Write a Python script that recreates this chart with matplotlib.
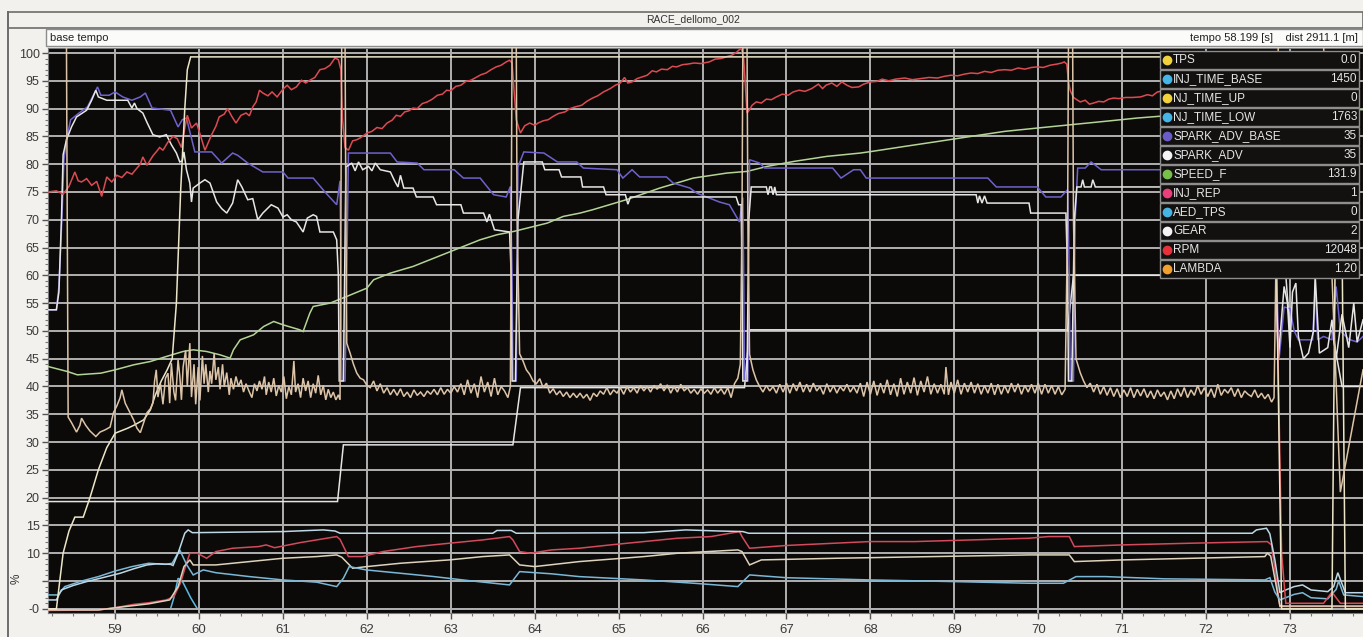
import matplotlib.pyplot as plt
from matplotlib.patches import Rectangle
from matplotlib.lines import Line2D

W, H = 1363, 637

# ---- channels: (time [s], value [%]) ----
rpm = [(58.20, 75.0), (58.30, 75.2), (58.38, 74.6), (58.45, 76.0), (58.52, 78.6), (58.56, 77.0),
       (58.60, 76.8), (58.66, 77.4), (58.72, 76.2), (58.78, 76.9), (58.84, 74.2), (58.90, 77.7),
       (58.96, 76.8), (59.02, 78.0), (59.08, 77.6), (59.14, 78.6), (59.20, 78.2), (59.26, 79.3),
       (59.30, 80.0), (59.33, 81.3), (59.38, 79.8), (59.45, 81.5), (59.50, 82.4), (59.53, 83.0),
       (59.57, 82.5), (59.63, 84.0), (59.69, 85.0), (59.74, 84.6), (59.79, 83.0), (59.83, 86.5),
       (59.86, 88.8), (59.91, 86.5), (59.97, 87.4), (60.02, 85.0), (60.07, 82.5), (60.15, 85.3),
       (60.20, 86.8), (60.24, 88.5), (60.30, 89.0), (60.34, 90.0), (60.39, 88.6), (60.44, 87.4),
       (60.50, 88.8), (60.56, 89.2), (60.60, 88.7), (60.64, 90.3), (60.68, 91.2), (60.72, 93.3),
       (60.76, 92.8), (60.82, 92.3), (60.87, 93.0), (60.93, 92.1), (61.00, 93.5), (61.05, 94.2),
       (61.10, 93.4), (61.16, 93.9), (61.22, 95.1), (61.27, 94.6), (61.32, 95.1), (61.38, 95.6),
       (61.44, 97.0), (61.50, 97.2), (61.56, 97.8), (61.62, 99.1), (61.66, 98.8), (61.69, 97.0),
       (61.71, 88.0), (61.74, 83.0), (61.78, 82.5), (61.83, 84.2), (61.88, 84.4), (61.93, 84.8),
       (62.00, 85.6), (62.06, 85.9), (62.12, 86.6), (62.18, 86.4), (62.24, 87.4), (62.30, 87.9),
       (62.35, 88.8), (62.40, 88.6), (62.45, 89.4), (62.50, 89.6), (62.55, 90.1), (62.60, 90.0),
       (62.66, 90.9), (62.72, 91.2), (62.78, 91.7), (62.84, 92.4), (62.90, 92.6), (62.95, 93.3),
       (63.00, 93.2), (63.06, 94.0), (63.12, 94.2), (63.18, 94.9), (63.24, 95.1), (63.30, 95.6),
       (63.36, 96.1), (63.42, 96.4), (63.48, 97.0), (63.54, 97.5), (63.60, 97.8), (63.66, 98.4),
       (63.70, 98.7), (63.73, 98.2), (63.75, 94.0), (63.78, 88.0), (63.83, 85.6), (63.88, 86.9),
       (63.94, 87.4), (64.00, 87.0), (64.04, 87.4), (64.10, 87.8), (64.16, 88.0), (64.22, 88.6),
       (64.28, 89.1), (64.36, 89.4), (64.42, 90.0), (64.48, 90.3), (64.56, 90.6), (64.62, 91.3),
       (64.69, 91.9), (64.75, 92.3), (64.82, 93.0), (64.90, 93.6), (64.96, 94.2), (65.02, 94.6),
       (65.07, 95.6), (65.11, 94.6), (65.16, 94.8), (65.22, 95.4), (65.28, 95.7), (65.34, 96.0),
       (65.40, 96.8), (65.45, 96.6), (65.51, 97.1), (65.58, 97.0), (65.64, 97.6), (65.69, 97.5),
       (65.76, 97.9), (65.82, 98.0), (65.90, 98.2), (65.98, 98.1), (66.08, 98.4), (66.15, 98.9),
       (66.22, 99.0), (66.30, 99.4), (66.35, 99.6), (66.41, 100.2), (66.46, 100.9), (66.49, 99.0),
       (66.51, 94.0), (66.53, 89.2), (66.56, 89.8), (66.59, 90.6), (66.64, 91.2), (66.70, 91.0),
       (66.76, 91.7), (66.82, 91.6), (66.88, 92.1), (66.95, 92.6), (67.02, 92.4), (67.08, 93.0),
       (67.15, 93.3), (67.22, 93.1), (67.30, 93.6), (67.38, 94.4), (67.43, 93.6), (67.47, 94.2),
       (67.54, 94.6), (67.60, 94.0), (67.66, 94.8), (67.72, 94.2), (67.78, 93.8), (67.86, 93.9),
       (67.92, 94.4), (68.00, 94.8), (68.08, 94.9), (68.14, 95.3), (68.22, 95.0), (68.30, 95.3),
       (68.41, 95.5), (68.50, 95.2), (68.60, 95.4), (68.70, 95.6), (68.80, 95.5), (68.88, 95.8),
       (68.96, 96.0), (69.04, 95.9), (69.12, 96.2), (69.20, 96.4), (69.28, 96.3), (69.36, 96.7),
       (69.44, 96.5), (69.52, 96.9), (69.60, 97.0), (69.68, 96.9), (69.76, 97.3), (69.84, 97.1),
       (69.92, 97.4), (69.99, 97.5), (70.06, 97.4), (70.14, 97.8), (70.22, 98.0), (70.28, 98.2),
       (70.31, 98.4), (70.34, 98.0), (70.36, 95.0), (70.38, 93.3), (70.42, 92.0), (70.50, 91.2),
       (70.56, 91.5), (70.61, 90.8), (70.66, 91.0), (70.72, 91.3), (70.78, 91.2), (70.84, 91.7),
       (70.90, 91.9), (70.96, 91.8), (71.04, 92.0), (71.12, 92.0), (71.22, 92.1), (71.30, 92.5),
       (71.36, 92.3), (71.42, 93.0), (71.50, 93.2), (71.70, 93.4), (72.00, 93.5), (72.40, 93.6),
       (72.78, 93.4), (72.84, 60.0), (72.90, 10.0), (72.95, 1.0), (73.40, 1.0), (73.50, 3.0),
       (73.60, 1.0), (73.87, 1.0)]

spark_adv_base = [(58.20, 53.8), (58.30, 53.8), (58.33, 58.0), (58.35, 64.6), (58.37, 72.0),
                  (58.39, 80.8), (58.42, 84.4), (58.47, 88.0), (58.57, 89.2), (58.67, 90.3),
                  (58.73, 92.1), (58.79, 93.9), (58.83, 92.4), (58.93, 92.4), (59.00, 93.0),
                  (59.09, 92.1), (59.20, 91.5), (59.30, 92.1), (59.36, 92.8), (59.44, 90.1),
                  (59.66, 89.7), (59.75, 86.7), (59.80, 88.0), (59.85, 88.3), (59.95, 82.2),
                  (60.15, 82.2), (60.27, 80.2), (60.40, 82.0), (60.46, 81.6), (60.58, 80.2),
                  (60.76, 78.6), (61.00, 78.6), (61.06, 77.5), (61.36, 77.5), (61.50, 75.0),
                  (61.64, 72.7), (61.68, 77.0), (61.69, 60.0), (61.70, 41.0), (61.74, 41.0),
                  (61.76, 60.0), (61.78, 82.0), (62.28, 82.0), (62.36, 80.4), (62.60, 80.2),
                  (62.68, 79.0), (63.04, 79.0), (63.15, 77.5), (63.35, 77.5), (63.51, 74.5),
                  (63.66, 74.1), (63.71, 76.0), (63.73, 60.0), (63.74, 41.0), (63.78, 41.0),
                  (63.80, 79.5), (63.87, 82.2), (64.11, 82.0), (64.27, 80.4), (64.50, 80.4),
                  (64.58, 79.3), (64.98, 79.0), (65.05, 77.5), (65.16, 79.0), (65.25, 77.7),
                  (65.57, 77.7), (65.65, 76.6), (65.85, 75.7), (65.93, 74.8), (66.20, 73.2),
                  (66.32, 72.7), (66.44, 69.6), (66.48, 74.0), (66.49, 60.0), (66.50, 41.0),
                  (66.54, 41.0), (66.56, 80.8), (66.68, 80.2), (66.74, 79.3), (67.55, 79.3),
                  (67.65, 77.5), (67.80, 79.0), (67.88, 79.0), (67.95, 77.5), (69.40, 77.5),
                  (69.50, 75.9), (69.99, 75.9), (70.09, 74.1), (70.27, 74.1), (70.35, 75.4),
                  (70.37, 60.0), (70.38, 41.0), (70.42, 41.0), (70.44, 70.0), (70.47, 79.3),
                  (70.56, 79.3), (70.63, 80.4), (70.75, 79.0), (72.80, 79.0), (72.84, 60.0),
                  (72.87, 45.0), (72.93, 54.3), (73.00, 54.0), (73.05, 50.0), (73.10, 48.4),
                  (73.27, 48.4), (73.30, 58.0), (73.33, 48.4), (73.40, 49.0), (73.50, 48.4),
                  (73.55, 58.0), (73.60, 50.0), (73.70, 48.5), (73.80, 48.0), (73.87, 49.0)]

spark_adv = [(58.20, 53.8), (58.30, 53.8), (58.33, 57.0), (58.36, 70.0), (58.38, 81.7),
             (58.42, 84.4), (58.48, 86.7), (58.54, 88.5), (58.66, 89.7), (58.72, 91.5),
             (58.77, 93.3), (58.80, 92.1), (58.90, 91.5), (59.15, 91.5), (59.20, 90.1),
             (59.23, 91.0), (59.26, 90.0), (59.33, 89.2), (59.38, 87.5), (59.45, 85.3),
             (59.53, 84.9), (59.61, 85.3), (59.67, 83.5), (59.73, 82.0), (59.77, 80.4),
             (59.80, 80.6), (59.82, 82.2), (59.85, 79.0), (59.89, 76.6), (59.91, 73.2),
             (59.93, 75.7), (60.01, 76.6), (60.07, 77.2), (60.13, 76.6), (60.21, 73.2),
             (60.27, 72.0), (60.33, 71.2), (60.40, 73.0), (60.46, 77.2), (60.51, 75.9),
             (60.58, 73.6), (60.64, 73.8), (60.70, 70.0), (60.76, 71.2), (60.86, 72.7),
             (60.94, 72.1), (61.00, 70.5), (61.05, 70.9), (61.10, 70.0), (61.16, 69.6),
             (61.24, 67.8), (61.29, 70.3), (61.36, 70.9), (61.40, 70.6), (61.44, 67.8),
             (61.60, 67.8), (61.64, 66.4), (61.66, 60.0), (61.67, 41.0), (61.72, 41.0),
             (61.75, 79.5), (61.82, 80.2), (61.86, 78.8), (61.90, 80.4), (61.95, 79.0),
             (62.02, 79.6), (62.06, 78.8), (62.10, 80.2), (62.16, 79.0), (62.28, 78.6),
             (62.33, 77.0), (62.37, 75.9), (62.40, 78.0), (62.44, 75.7), (62.55, 75.7),
             (62.59, 74.1), (62.79, 74.1), (62.83, 72.7), (63.12, 72.7), (63.15, 71.2),
             (63.39, 71.2), (63.43, 69.6), (63.46, 71.0), (63.52, 68.2), (63.70, 67.8),
             (63.72, 60.0), (63.73, 41.0), (63.77, 41.0), (63.80, 70.0), (63.87, 80.4),
             (64.09, 80.4), (64.12, 79.0), (64.29, 79.0), (64.32, 77.7), (64.55, 77.7),
             (64.57, 75.9), (64.82, 75.9), (64.85, 74.5), (65.08, 74.5), (65.11, 72.8),
             (65.14, 74.1), (66.40, 74.1), (66.43, 72.7), (66.46, 72.7), (66.47, 60.0),
             (66.48, 41.0), (66.53, 41.0), (66.55, 70.0), (66.58, 75.9), (66.76, 75.9),
             (66.78, 74.5), (66.80, 75.9), (66.82, 75.9), (66.84, 74.5), (66.86, 75.9),
             (66.88, 74.5), (69.26, 74.5), (69.28, 73.0), (69.30, 74.3), (69.33, 73.0),
             (69.36, 74.3), (69.39, 73.0), (69.89, 73.0), (69.91, 71.2), (70.33, 71.2),
             (70.35, 60.0), (70.36, 41.0), (70.40, 41.0), (70.43, 70.0), (70.46, 75.9),
             (70.51, 75.9), (70.53, 77.2), (70.55, 75.9), (70.63, 75.9), (70.65, 77.2),
             (70.68, 75.9), (72.80, 75.9), (72.83, 60.0), (72.86, 45.0), (72.93, 58.0),
             (72.97, 55.0), (73.00, 47.0), (73.03, 57.0), (73.07, 58.6), (73.10, 49.0),
             (73.16, 45.0), (73.22, 46.0), (73.28, 50.0), (73.30, 60.0), (73.35, 46.0),
             (73.45, 47.0), (73.50, 52.0), (73.55, 45.0), (73.62, 53.0), (73.70, 47.0),
             (73.76, 55.0), (73.80, 48.0), (73.87, 52.0)]

tps = [(58.20, 0.0), (58.30, 0.0), (58.38, 10.0), (58.45, 14.0), (58.52, 16.5), (58.62, 16.5),
       (58.70, 20.0), (58.80, 25.0), (58.90, 29.0), (59.00, 31.6), (59.15, 32.5), (59.22, 33.0),
       (59.34, 34.0), (59.42, 35.8), (59.48, 38.5), (59.55, 41.0), (59.62, 43.0), (59.68, 45.0),
       (59.73, 55.0), (59.78, 75.0), (59.83, 90.0), (59.86, 97.0), (59.90, 99.3), (72.80, 99.3),
       (72.86, 40.0), (72.90, 0.0), (73.50, 0.0), (73.56, 99.3), (73.60, 99.3), (73.66, 0.0),
       (73.87, 0.0)]

speed_f = [(58.20, 43.6), (58.43, 42.7), (58.55, 42.1), (58.83, 42.4), (59.00, 43.0), (59.22, 43.9),
           (59.42, 44.5), (59.61, 45.4), (59.81, 46.3), (59.93, 46.6), (60.09, 46.3), (60.25, 45.7),
           (60.37, 45.1), (60.41, 46.6), (60.49, 48.4), (60.65, 49.3), (60.77, 50.8), (60.89, 51.7),
           (61.00, 51.1), (61.20, 50.2), (61.24, 49.9), (61.32, 53.2), (61.36, 54.4), (61.56, 55.0),
           (61.76, 56.2), (62.00, 57.7), (62.08, 59.2), (62.28, 60.4), (62.55, 61.6), (62.75, 62.8),
           (62.95, 64.0), (63.15, 65.2), (63.35, 66.4), (63.55, 67.3), (63.75, 67.9), (63.99, 68.8),
           (64.15, 69.4), (64.34, 70.6), (64.54, 71.2), (64.69, 71.8), (65.09, 73.6), (65.49, 75.7),
           (65.89, 77.5), (66.29, 78.4), (66.53, 78.7), (66.77, 79.6), (67.09, 80.5), (67.48, 81.4),
           (67.88, 82.0), (68.02, 82.3), (68.41, 83.2), (68.81, 84.1), (69.20, 85.0), (69.60, 85.9),
           (69.99, 86.5), (70.39, 87.1), (70.79, 87.7), (71.18, 88.3), (71.43, 88.6), (72.00, 89.2),
           (72.80, 89.8), (73.87, 89.8)]

gear = [(58.20, 19.3), (61.65, 19.3), (61.72, 29.5), (63.74, 29.5), (63.83, 39.8), (66.50, 39.8),
        (66.56, 50.2), (70.35, 50.2), (70.42, 60.0), (72.95, 60.0), (73.00, 50.0), (73.50, 50.0),
        (73.62, 40.0), (73.87, 40.0)]

lambda_ = [(58.20, 101.5), (58.42, 101.5), (58.43, 70.0), (58.44, 34.5), (58.48, 33.5), (58.54, 31.8),
           (58.58, 33.0), (58.60, 34.3), (58.65, 33.0), (58.70, 32.0), (58.77, 31.0), (58.82, 31.8),
           (58.88, 32.2), (58.94, 32.7), (58.98, 35.3), (59.02, 36.5), (59.06, 38.0), (59.08, 39.4),
           (59.12, 37.0), (59.17, 35.5), (59.22, 34.0), (59.26, 32.5), (59.30, 31.7), (59.34, 33.5),
           (59.38, 35.3), (59.42, 36.0), (59.45, 37.0), (59.47, 41.0), (59.49, 43.0), (59.51, 38.1),
           (59.54, 40.5), (59.57, 36.8), (59.60, 41.5), (59.63, 42.4), (59.65, 37.0), (59.67, 44.2),
           (59.70, 39.0), (59.72, 37.5), (59.75, 44.8), (59.77, 42.0), (59.79, 37.6), (59.81, 43.5),
           (59.84, 46.5), (59.86, 40.0), (59.89, 47.8), (59.91, 38.1), (59.94, 44.0), (59.96, 36.8),
           (59.99, 43.5), (60.01, 37.5), (60.04, 45.5), (60.06, 40.5), (60.08, 44.0), (60.11, 39.0),
           (60.13, 42.8), (60.15, 40.5), (60.18, 46.0), (60.20, 41.2), (60.23, 43.5), (60.25, 39.5),
           (60.28, 44.0), (60.30, 40.0), (60.33, 42.5), (60.36, 38.5), (60.38, 41.5), (60.41, 39.5),
           (60.44, 41.8), (60.47, 40.0), (60.50, 41.2), (60.53, 39.0), (60.56, 40.5), (60.60, 39.0),
           (60.63, 38.0), (60.66, 40.5), (60.69, 39.2), (60.72, 41.0), (60.75, 39.5), (60.78, 41.8),
           (60.80, 38.5), (60.83, 40.8), (60.86, 39.0), (60.89, 41.5), (60.92, 38.3), (60.95, 40.2),
           (60.98, 39.0), (61.01, 41.8), (61.04, 37.8), (61.07, 40.0), (61.10, 38.5), (61.13, 44.6),
           (61.15, 39.0), (61.18, 40.5), (61.21, 38.0), (61.24, 41.5), (61.27, 39.2), (61.30, 41.0),
           (61.33, 38.0), (61.36, 40.5), (61.39, 38.8), (61.42, 42.0), (61.45, 38.5), (61.48, 40.2),
           (61.51, 37.6), (61.54, 39.5), (61.57, 38.0), (61.60, 39.0), (61.63, 37.6), (61.66, 38.5),
           (61.68, 37.6), (61.69, 70.0), (61.70, 101.5), (61.74, 101.5), (61.75, 70.0), (61.76, 47.8),
           (61.80, 46.0), (61.84, 44.0), (61.88, 42.4), (61.92, 41.5), (61.96, 41.2), (62.00, 40.2),
           (62.04, 39.8), (62.08, 41.0), (62.12, 39.2), (62.16, 40.5), (62.20, 38.8), (62.24, 39.8),
           (62.28, 38.5), (62.32, 39.5), (62.36, 38.4), (62.40, 39.6), (62.44, 38.2), (62.48, 39.0),
           (62.52, 38.0), (62.56, 39.4), (62.60, 38.4), (62.64, 39.0), (62.68, 38.2), (62.72, 39.2),
           (62.76, 38.6), (62.80, 39.5), (62.84, 38.5), (62.88, 39.8), (62.92, 38.6), (62.96, 39.5),
           (63.00, 38.8), (63.04, 40.0), (63.08, 39.0), (63.12, 40.5), (63.16, 38.5), (63.20, 41.2),
           (63.24, 38.8), (63.28, 40.5), (63.32, 38.0), (63.36, 41.8), (63.40, 39.0), (63.44, 40.8),
           (63.48, 38.2), (63.52, 41.5), (63.56, 38.5), (63.60, 40.0), (63.64, 39.2), (63.68, 38.0),
           (63.71, 40.0), (63.72, 70.0), (63.73, 101.5), (63.78, 101.5), (63.79, 70.0), (63.82, 45.9),
           (63.86, 44.6), (63.90, 43.0), (63.94, 42.2), (63.98, 41.0), (64.02, 40.5), (64.06, 41.4),
           (64.10, 39.8), (64.14, 40.6), (64.18, 38.8), (64.22, 39.6), (64.26, 38.5), (64.30, 39.2),
           (64.34, 38.2), (64.38, 39.0), (64.42, 38.0), (64.46, 38.8), (64.50, 38.0), (64.54, 38.8),
           (64.58, 37.9), (64.62, 38.6), (64.66, 37.5), (64.70, 38.8), (64.74, 38.2), (64.78, 39.2),
           (64.82, 38.6), (64.86, 39.8), (64.90, 38.5), (64.94, 39.4), (64.98, 38.8), (65.02, 39.8),
           (65.06, 38.6), (65.10, 40.0), (65.14, 39.0), (65.18, 39.8), (65.22, 38.8), (65.26, 40.2),
           (65.30, 39.2), (65.34, 40.0), (65.38, 39.0), (65.42, 40.2), (65.46, 39.5), (65.50, 40.5),
           (65.54, 39.2), (65.58, 40.3), (65.62, 38.8), (65.66, 40.0), (65.70, 39.0), (65.74, 40.4),
           (65.78, 39.2), (65.82, 39.8), (65.86, 38.8), (65.90, 39.5), (65.94, 38.6), (65.98, 39.6),
           (66.02, 38.8), (66.06, 39.4), (66.10, 38.6), (66.14, 39.8), (66.18, 38.8), (66.22, 39.6),
           (66.26, 38.6), (66.30, 39.8), (66.34, 38.0), (66.38, 40.5), (66.42, 41.5), (66.45, 44.0),
           (66.47, 70.0), (66.48, 101.5), (66.53, 101.5), (66.54, 70.0), (66.56, 45.8), (66.60, 43.0),
           (66.64, 41.2), (66.68, 40.0), (66.72, 39.0), (66.76, 40.2), (66.80, 39.2), (66.84, 40.0),
           (66.88, 38.8), (66.92, 40.4), (66.96, 39.0), (67.00, 40.6), (67.04, 38.8), (67.08, 40.5),
           (67.12, 39.2), (67.16, 40.8), (67.20, 39.0), (67.24, 40.4), (67.28, 39.0), (67.32, 40.6),
           (67.36, 39.2), (67.40, 40.0), (67.44, 38.6), (67.48, 40.5), (67.52, 39.0), (67.56, 40.2),
           (67.60, 38.8), (67.64, 40.0), (67.68, 39.2), (67.72, 40.4), (67.76, 39.0), (67.80, 40.0),
           (67.84, 38.8), (67.88, 40.6), (67.92, 38.2), (67.96, 40.8), (68.00, 38.6), (68.04, 41.0),
           (68.08, 38.4), (68.12, 40.6), (68.16, 38.8), (68.20, 41.2), (68.24, 38.5), (68.28, 40.5),
           (68.32, 38.2), (68.36, 41.5), (68.40, 38.6), (68.44, 40.8), (68.48, 38.8), (68.52, 41.6),
           (68.56, 38.4), (68.60, 41.0), (68.64, 39.0), (68.68, 41.8), (68.72, 38.6), (68.76, 40.5),
           (68.80, 38.8), (68.84, 40.4), (68.88, 38.6), (68.90, 43.5), (68.93, 38.5), (68.96, 40.8),
           (69.00, 38.8), (69.04, 41.2), (69.08, 38.6), (69.12, 40.6), (69.16, 39.0), (69.20, 40.8),
           (69.24, 38.8), (69.28, 40.5), (69.32, 38.6), (69.36, 40.2), (69.40, 38.8), (69.44, 40.6),
           (69.48, 38.5), (69.52, 40.4), (69.56, 38.6), (69.60, 40.2), (69.64, 38.8), (69.68, 40.6),
           (69.72, 39.0), (69.76, 40.5), (69.80, 38.6), (69.84, 40.2), (69.88, 39.0), (69.92, 40.4),
           (69.96, 38.8), (70.00, 40.6), (70.04, 38.6), (70.08, 40.4), (70.12, 38.8), (70.16, 40.2),
           (70.20, 38.6), (70.24, 40.0), (70.28, 38.5), (70.32, 39.5), (70.35, 70.0), (70.36, 101.5),
           (70.41, 101.5), (70.42, 70.0), (70.45, 45.0), (70.50, 42.5), (70.54, 41.0), (70.58, 39.8),
           (70.62, 40.6), (70.66, 39.0), (70.70, 40.4), (70.74, 38.6), (70.78, 40.0), (70.82, 38.4),
           (70.86, 39.8), (70.90, 38.2), (70.94, 39.6), (70.98, 38.0), (71.02, 39.4), (71.06, 38.2),
           (71.10, 39.8), (71.14, 38.0), (71.18, 39.5), (71.22, 38.3), (71.26, 39.6), (71.30, 38.0),
           (71.34, 39.2), (71.38, 37.8), (71.42, 39.4), (71.46, 38.2), (71.50, 39.0), (71.54, 37.6),
           (71.58, 39.2), (71.62, 37.8), (71.66, 39.6), (71.70, 38.2), (71.74, 39.8), (71.78, 38.0),
           (71.82, 39.4), (71.86, 38.4), (71.90, 40.2), (71.94, 38.6), (71.98, 39.8), (72.02, 38.2),
           (72.06, 39.6), (72.10, 38.0), (72.14, 40.4), (72.18, 38.4), (72.22, 39.5), (72.26, 38.8),
           (72.30, 39.8), (72.34, 38.2), (72.38, 39.6), (72.42, 38.0), (72.46, 39.2), (72.50, 38.6),
           (72.54, 38.2), (72.58, 39.4), (72.62, 38.0), (72.66, 38.8), (72.70, 37.8), (72.74, 38.6),
           (72.78, 37.2), (72.81, 38.0), (72.84, 70.0), (72.86, 101.5), (73.40, 101.5), (73.50, 60.0),
           (73.60, 21.0), (73.87, 43.0)]

inj_time_base = [(58.20, 1.6), (58.30, 1.6), (58.36, 3.4), (58.50, 4.2), (58.66, 4.9), (58.85, 5.6),
                 (59.06, 6.4), (59.22, 7.2), (59.38, 7.9), (59.50, 8.1), (59.66, 8.0), (59.69, 7.8),
                 (59.75, 10.0), (59.83, 13.6), (59.87, 14.2), (59.92, 13.7), (61.00, 13.9),
                 (61.48, 14.2), (61.62, 14.0), (61.68, 13.6), (63.50, 13.6), (63.55, 14.1),
                 (63.72, 14.1), (63.78, 13.6), (65.30, 13.7), (65.80, 14.2), (66.20, 14.0),
                 (66.48, 13.9), (66.55, 13.6), (72.55, 13.6), (72.60, 14.2), (72.72, 14.5),
                 (72.76, 13.5), (72.82, 8.8), (72.88, 2.9), (72.95, 3.4), (73.05, 4.0), (73.15, 4.3),
                 (73.25, 3.4), (73.45, 3.1), (73.52, 4.0), (73.57, 6.5), (73.62, 4.5), (73.66, 2.9),
                 (73.87, 2.9)]

inj_time_low = [(58.20, 2.5), (58.32, 2.5), (58.40, 4.0), (58.60, 5.0), (58.80, 5.8), (59.00, 6.8),
                (59.20, 7.6), (59.40, 8.2), (59.60, 8.0), (59.68, 8.2), (59.77, 10.6), (59.85, 8.0),
                (59.93, 6.1), (60.05, 7.0), (60.20, 6.5), (60.60, 5.8), (61.00, 5.2), (61.40, 4.8),
                (61.64, 4.0), (61.72, 5.5), (61.79, 7.6), (61.99, 7.0), (62.40, 6.4), (62.80, 5.8),
                (63.20, 5.1), (63.70, 4.3), (63.82, 6.7), (64.20, 6.3), (64.53, 5.8), (65.30, 5.2),
                (65.90, 4.6), (66.42, 4.0), (66.56, 6.1), (67.00, 5.6), (68.00, 5.2), (69.00, 4.9),
                (69.90, 4.6), (70.30, 4.6), (70.45, 5.8), (70.80, 5.8), (71.50, 5.4), (72.70, 5.2),
                (72.76, 5.6), (72.82, 3.0), (72.88, 1.6), (73.05, 2.6), (73.15, 2.9), (73.25, 2.0),
                (73.45, 1.8), (73.55, 3.5), (73.58, 5.0), (73.64, 2.5), (73.87, 2.2)]

nj_time_up = [(58.20, -0.2), (58.80, -0.2), (59.06, 0.3), (59.40, 0.9), (59.65, 1.6), (59.75, 4.0),
              (59.82, 7.6), (59.89, 8.8), (59.93, 7.9), (60.20, 7.9), (60.60, 8.5), (61.00, 9.1),
              (61.40, 9.4), (61.64, 9.7), (61.70, 9.3), (61.83, 7.3), (62.00, 7.6), (62.40, 8.2),
              (62.98, 8.8), (63.38, 9.4), (63.70, 9.7), (63.82, 7.9), (64.00, 7.6), (64.53, 8.5),
              (65.30, 9.4), (65.70, 10.0), (66.42, 10.6), (66.47, 10.3), (66.56, 7.9), (66.70, 8.8),
              (67.60, 9.1), (69.89, 9.7), (70.37, 9.7), (70.43, 8.5), (71.00, 8.8), (72.70, 9.4),
              (72.73, 10.0), (72.77, 9.5), (72.88, 0.5), (73.87, 0.5)]

inj_rep = [(58.20, -0.3), (58.80, -0.2), (59.00, 0.2), (59.22, 0.8), (59.40, 1.1), (59.61, 1.6),
           (59.70, 2.2), (59.78, 4.7), (59.85, 8.2), (59.89, 10.0), (59.98, 10.0), (60.09, 9.1),
           (60.20, 10.3), (60.40, 10.9), (60.71, 11.2), (60.80, 11.5), (60.90, 11.0), (61.20, 11.9),
           (61.40, 12.4), (61.64, 13.0), (61.68, 12.5), (61.78, 9.4), (61.95, 9.4), (62.19, 10.3),
           (62.59, 11.2), (62.98, 11.8), (63.38, 12.4), (63.70, 13.0), (63.74, 12.4), (63.82, 10.3),
           (63.95, 10.0), (64.20, 10.6), (64.53, 10.9), (64.90, 11.5), (65.30, 12.1), (65.70, 12.7),
           (66.10, 13.0), (66.44, 13.9), (66.47, 13.0), (66.56, 10.9), (67.00, 11.4), (67.99, 12.1),
           (68.53, 12.1), (69.89, 12.7), (70.12, 13.0), (70.37, 13.0), (70.43, 11.2), (71.00, 11.5),
           (71.80, 11.8), (72.73, 12.1), (72.78, 11.5), (72.88, 0.4), (73.87, 0.4)]

aed_tps = [(58.20, 0.0), (59.66, 0.0), (59.70, 2.0), (59.75, 5.5), (59.80, 5.0), (59.90, 2.0),
           (59.98, 0.0), (73.87, 0.0)]

# legend panel
legend_names = ['TPS', 'INJ_TIME_BASE', 'NJ_TIME_UP', 'NJ_TIME_LOW', 'SPARK_ADV_BASE', 'SPARK_ADV',
                'SPEED_F', 'INJ_REP', 'AED_TPS', 'GEAR', 'RPM', 'LAMBDA']
legend_values = ['0.0', '1450', '0', '1763', '35', '35', '131.9', '1', '0', '2', '12048', '1.20']
legend_dots = ['#f2d23a', '#46b4e4', '#f2d23a', '#46b4e4', '#6a5cc8', '#f4f4f4', '#78c048',
               '#e8407a', '#46b4e4', '#f4f4f4', '#e8303a', '#f0a030']

x_ticks = list(range(59, 74))
y_ticks = list(range(0, 101, 5))
y_labels = ['-0', ''] + [str(v) for v in range(10, 101, 5)]


def fx(x):
    return x / W


def fy(y):
    return 1 - y / H


plt.rcParams['font.family'] = ['Liberation Sans', 'DejaVu Sans']

fig = plt.figure(figsize=(W / 100, H / 100), dpi=100, facecolor='#f3f1ee')

# window chrome
fig.add_artist(Rectangle((fx(8), fy(28)), fx(W - 8), 16 / H, transform=fig.transFigure,
                         facecolor='#f3f1ee', edgecolor='#6c6c6c', lw=1.2))
fig.add_artist(Rectangle((fx(46), fy(46)), fx(W - 46), 17 / H, transform=fig.transFigure,
                         facecolor='#fbfbfa', edgecolor='#8c8c8c', lw=1.0))
fig.add_artist(Line2D([fx(8), fx(8)], [fy(12), 0], transform=fig.transFigure, color='#6c6c6c', lw=1.4))
fig.text(fx(693), fy(19), 'RACE_dellomo_002', ha='center', va='center', fontsize=7.5, color='#333333')
fig.text(fx(50), fy(38), 'base tempo', ha='left', va='center', fontsize=8, color='#222222')
fig.text(fx(1358), fy(38), 'tempo 58.199 [s]    dist 2911.1 [m]', ha='right', va='center',
         fontsize=8, color='#222222')
fig.text(fx(17), fy(579), '%', rotation=90, ha='center', va='center', fontsize=8.5, color='#333333')

ax = fig.add_axes([fx(48), fy(613), (W - 48) / W, (613 - 48) / H])
ax.set_facecolor('#0c0a08')
ax.set_xlim(58.2, 73.87)
ax.set_ylim(-0.75, 100.9)

ax.set_xticks(x_ticks)
ax.set_xticks([t + q for t in range(58, 74) for q in (0.25, 0.5, 0.75)], minor=True)
ax.set_yticks(y_ticks)
ax.set_yticklabels(y_labels)
ax.set_yticks(range(0, 101), minor=True)
ax.tick_params(axis='both', which='major', direction='out', length=4, width=1, color='#555555',
               labelsize=9, labelcolor='#3a3a3a', pad=2)
ax.tick_params(axis='x', which='major', labelsize=9.5, pad=4)
ax.tick_params(axis='both', which='minor', direction='out', length=2, width=0.8, color='#777777')
ax.grid(True, which='major', color='#b0b0b0', lw=1.4)
for s in ax.spines.values():
    s.set_color('#7a7a7a')


def draw(series, color, lw=1.1, z=3):
    t, v = zip(*series)
    ax.plot(t, v, color=color, lw=lw, zorder=z, solid_joinstyle='miter')


draw(aed_tps, '#58bce4', z=1)
draw(inj_rep, '#d24a5c')
draw(nj_time_up, '#ddd3bc')
draw(inj_time_low, '#7ab8d8')
draw(inj_time_base, '#bcd8e6')
draw(gear, '#e4e4e4')
draw(speed_f, '#b4d496')
draw(spark_adv_base, '#6e62cc', z=4)
draw(spark_adv, '#e6e6e6', z=4)
draw(rpm, '#dc4a52', z=4)
draw(tps, '#ece6c8', z=4)
draw(lambda_, '#dcc4a8', z=5)

# legend panel on the right
for i, (name, val, col) in enumerate(zip(legend_names, legend_values, legend_dots)):
    yc = 60 + 19 * i
    fig.add_artist(Rectangle((fx(1160), fy(yc + 9)), 199 / W, 18 / H, transform=fig.transFigure,
                             facecolor='#121110', edgecolor='#8e8e8e', lw=1.0, zorder=5))
    fig.add_artist(Line2D([fx(1167)], [fy(yc)], transform=fig.transFigure, marker='o',
                          markersize=6, color=col, markeredgecolor=col, zorder=6))
    fig.text(fx(1173), fy(yc), name, ha='left', va='center', fontsize=8.5, color='#e6e6e6', zorder=6)
    fig.text(fx(1357), fy(yc), val, ha='right', va='center', fontsize=8.5, color='#e6e6e6', zorder=6)

fig.savefig('out.png', dpi=100, facecolor=fig.get_facecolor())
